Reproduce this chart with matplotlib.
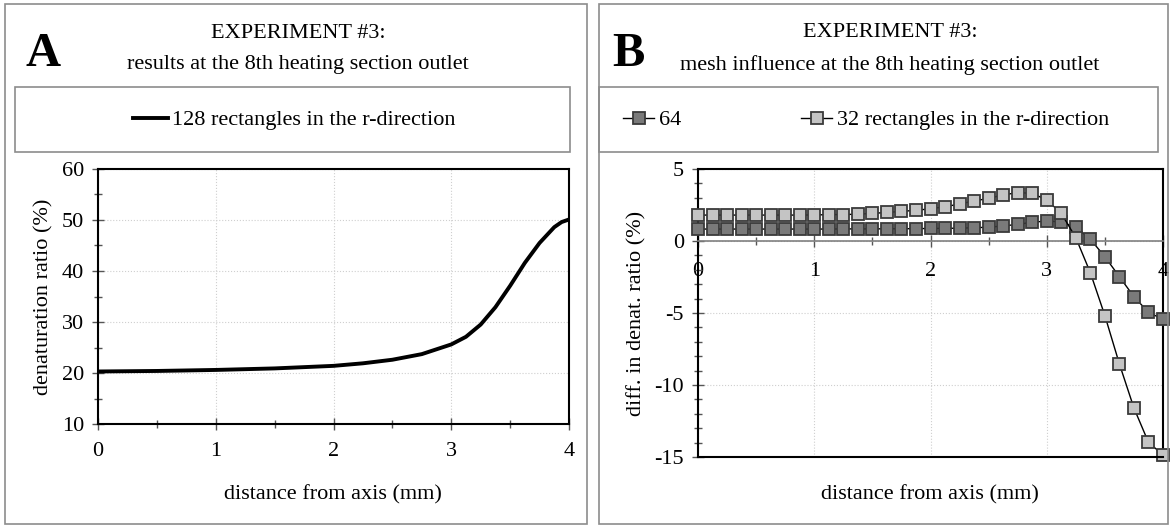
import matplotlib
matplotlib.use("Agg")
import matplotlib.pyplot as plt
from matplotlib.patches import Rectangle
from matplotlib.lines import Line2D
from matplotlib.ticker import MultipleLocator

# ---------------- data ----------------
xa = [0.0, 0.5, 1.0, 1.5, 2.0, 2.25, 2.5, 2.75, 3.0, 3.125, 3.25, 3.375,
      3.5, 3.625, 3.75, 3.875, 3.9375, 4.0]
ya = [20.3, 20.4, 20.6, 20.9, 21.4, 21.9, 22.6, 23.7, 25.6, 27.1, 29.5, 32.9,
      37.1, 41.6, 45.5, 48.6, 49.6, 50.1]

xb = [0.0, 0.125, 0.25, 0.375, 0.5, 0.625, 0.75, 0.875, 1.0, 1.125, 1.25,
      1.375, 1.5, 1.625, 1.75, 1.875, 2.0, 2.125, 2.25, 2.375, 2.5, 2.625,
      2.75, 2.875, 3.0, 3.125, 3.25, 3.375, 3.5, 3.625, 3.75, 3.875, 4.0]
diff64 = [0.83, 0.83, 0.83, 0.83, 0.83, 0.83, 0.83, 0.83, 0.83, 0.83, 0.84,
          0.84, 0.84, 0.85, 0.85, 0.86, 0.87, 0.88, 0.89, 0.92, 0.96, 1.04,
          1.16, 1.30, 1.39, 1.32, 0.95, 0.12, -1.09, -2.48, -3.87, -4.95, -5.44]
diff32 = [1.80, 1.80, 1.80, 1.80, 1.80, 1.80, 1.80, 1.80, 1.81, 1.83, 1.84,
          1.86, 1.92, 1.98, 2.06, 2.13, 2.24, 2.38, 2.57, 2.78, 2.96, 3.20,
          3.36, 3.31, 2.85, 1.92, 0.23, -2.20, -5.18, -8.54, -11.60, -13.98, -14.86]

label_a = "128 rectangles in the r-direction"
label_64 = "64"
label_32 = "32 rectangles in the r-direction"
title_a = "EXPERIMENT #3:\nresults at the 8th heating section outlet"
title_b = "EXPERIMENT #3:\nmesh influence at the 8th heating section outlet"
xlabel = "distance from axis (mm)"
ylabel_a = "denaturation ratio (%)"
ylabel_b = "diff. in denat. ratio (%)"

# ---------------- style ----------------
plt.rcParams['font.family'] = ['Liberation Serif', 'DejaVu Serif']
plt.rcParams['axes.unicode_minus'] = False
FS = 16
W, H = 1174, 527
fig = plt.figure(figsize=(W / 100, H / 100), dpi=100)


def fx(px):
    return px / W


def fy(py):
    return 1 - py / H


border = '#8c8c8c'
# panel frames
fig.add_artist(Rectangle((fx(5), fy(524)), fx(587 - 5), (524 - 4) / H,
                         transform=fig.transFigure, fill=False, ec=border, lw=1.2))
fig.add_artist(Rectangle((fx(599), fy(524)), fx(1168 - 599), (524 - 4) / H,
                         transform=fig.transFigure, fill=False, ec=border, lw=1.2))
# legend boxes
fig.add_artist(Rectangle((fx(15), fy(152)), fx(570 - 15), 65 / H,
                         transform=fig.transFigure, fill=False, ec=border, lw=1.2))
fig.add_artist(Rectangle((fx(599), fy(152)), fx(1158 - 599), 65 / H,
                         transform=fig.transFigure, fill=False, ec=border, lw=1.2))

# titles and panel letters
fig.text(fx(298), fy(49), title_a, ha='center', va='center', fontsize=FS, linespacing=1.85)
fig.text(fx(890), fy(49), title_b, ha='center', va='center', fontsize=FS, linespacing=1.85)
fig.text(fx(43), fy(54), "A", ha='center', va='center', fontsize=35, fontweight='bold')
fig.text(fx(628), fy(54), "B", ha='center', va='center', fontsize=35, fontweight='bold')

grid_kw = dict(color='#cfcfcf', linestyle=':', linewidth=0.8)

# ---------------- panel A ----------------
axA = fig.add_axes([fx(98), fy(424), fx(569 - 98), (424 - 169) / H])
axA.plot(xa, ya, color='black', lw=2.8, solid_capstyle='butt', clip_on=False)
axA.set_xlim(0, 4)
axA.set_ylim(10, 60)
axA.xaxis.set_major_locator(MultipleLocator(1))
axA.xaxis.set_minor_locator(MultipleLocator(0.5))
axA.yaxis.set_major_locator(MultipleLocator(10))
axA.yaxis.set_minor_locator(MultipleLocator(5))
axA.grid(True, which='major', **grid_kw)
axA.tick_params(which='both', direction='inout', labelsize=FS, width=1, color='#555555')
axA.tick_params(which='major', length=8)
axA.tick_params(which='minor', length=6)
axA.tick_params(axis='x', pad=9)
axA.tick_params(axis='y', pad=6)
for s in axA.spines.values():
    s.set_linewidth(1.5)
axA.set_ylabel(ylabel_a, fontsize=FS, labelpad=6)
fig.text(fx(333), fy(495), xlabel, ha='center', va='center', fontsize=FS)

hA = [Line2D([], [], color='black', lw=2.8)]
fig.legend(hA, [label_a], loc='center', bbox_to_anchor=(fx(294), fy(120)),
           frameon=False, fontsize=FS, handlelength=1.6, handletextpad=0.15)

# ---------------- panel B ----------------
axB = fig.add_axes([fx(698), fy(457), fx(1163 - 698), (457 - 169) / H])
mk = dict(marker='s', markersize=9, markeredgewidth=1.3, markeredgecolor='#3a3a3a',
          color='black', lw=1)
axB.plot(xb, diff64, markerfacecolor='#7a7a7a', zorder=3, clip_on=False, **mk)
axB.plot(xb, diff32, markerfacecolor='#c4c4c4', zorder=4, clip_on=False, **mk)
axB.set_xlim(0, 4)
axB.set_ylim(-15, 5)
axB.xaxis.set_major_locator(MultipleLocator(1))
axB.xaxis.set_minor_locator(MultipleLocator(0.5))
axB.yaxis.set_major_locator(MultipleLocator(5))
axB.yaxis.set_minor_locator(MultipleLocator(1))
axB.grid(True, which='major', **grid_kw)
axB.spines['bottom'].set_position(('data', 0))
axB.spines['bottom'].set_color('#808080')
axB.spines['bottom'].set_linewidth(1.2)
for k in ('left', 'right', 'top'):
    axB.spines[k].set_linewidth(1.5)
axB.plot([0, 1], [0, 0], transform=axB.transAxes, color='black', lw=1.5,
         clip_on=False, zorder=5)
axB.tick_params(which='both', direction='inout', labelsize=FS, width=1, color='#555555')
axB.tick_params(which='major', length=8)
axB.tick_params(which='minor', length=6)
axB.tick_params(axis='x', pad=11)
axB.tick_params(axis='y', pad=6)
axB.set_ylabel(ylabel_b, fontsize=FS, labelpad=6)
fig.text(fx(930), fy(495), xlabel, ha='center', va='center', fontsize=FS)

hB = [Line2D([], [], markerfacecolor='#7a7a7a', **mk),
      Line2D([], [], markerfacecolor='#c4c4c4', **mk)]
fig.legend(hB, [label_64, label_32], loc='center', bbox_to_anchor=(fx(866), fy(120)),
           ncol=2, frameon=False, fontsize=FS, handlelength=1.4, handletextpad=0.2,
           columnspacing=5.4)

fig.savefig("out.png", dpi=100)
